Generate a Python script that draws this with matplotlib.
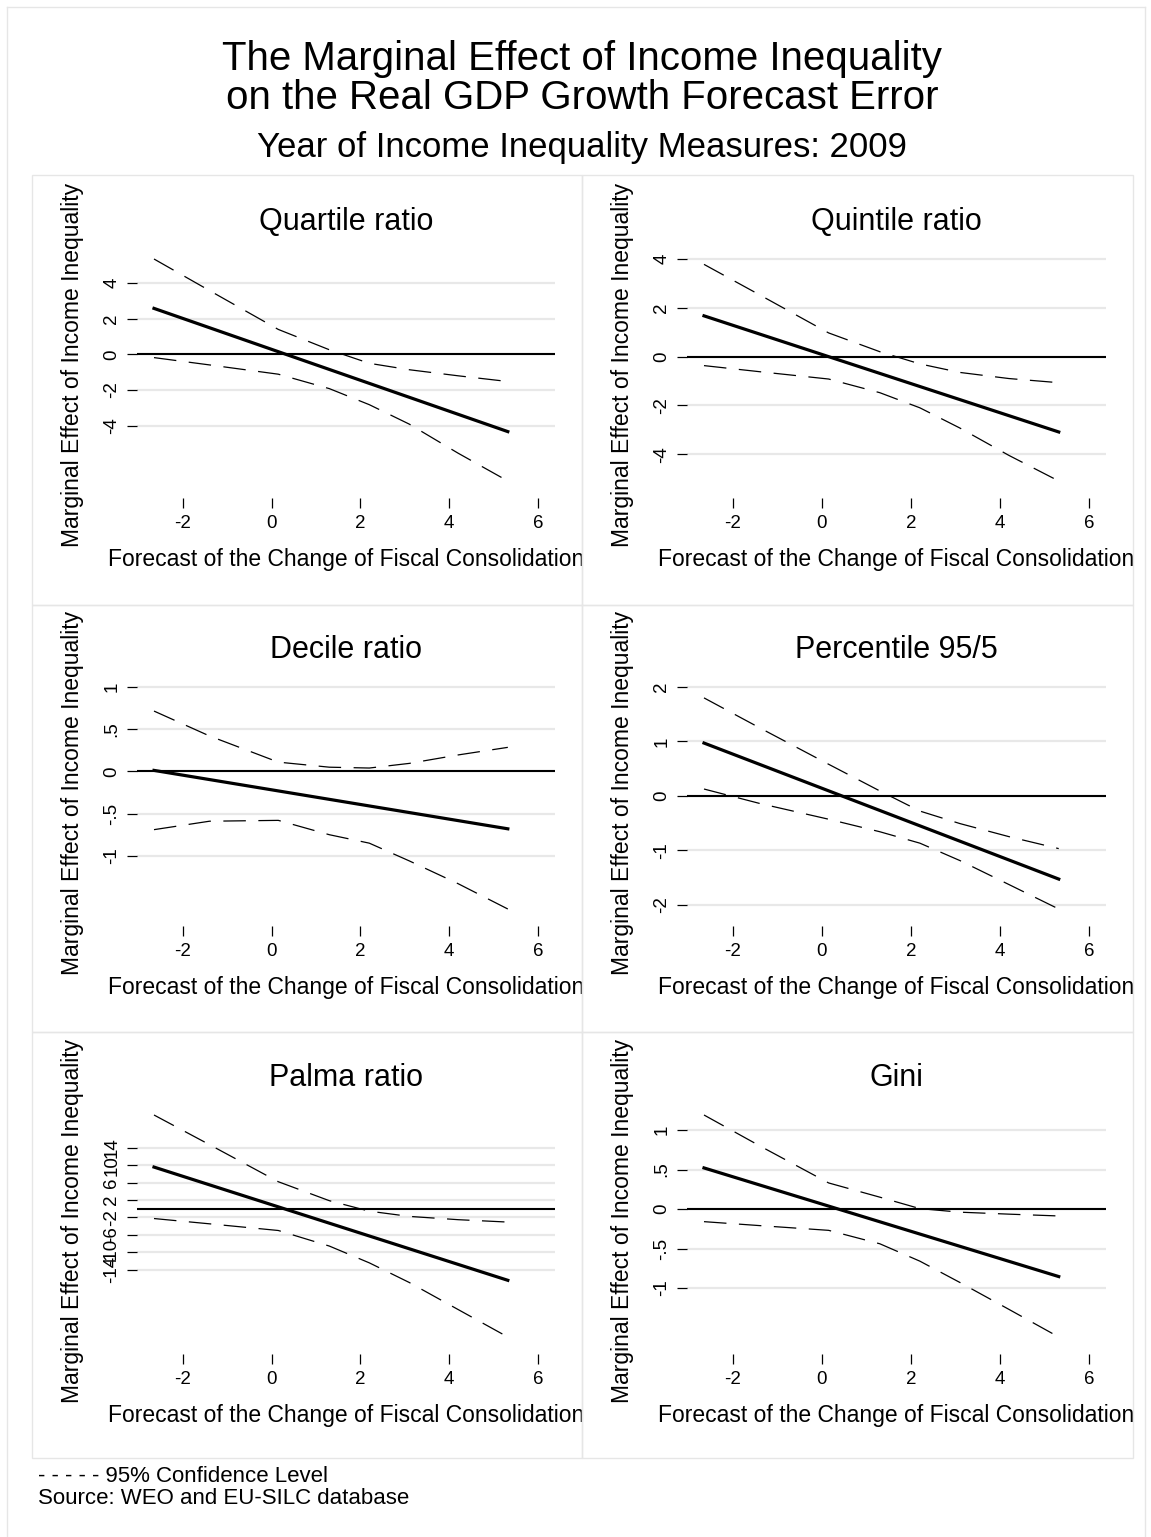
################# Imports #########################
import matplotlib
matplotlib.use("Agg")
from matplotlib import pyplot as plt
from matplotlib.patches import Rectangle
from matplotlib.lines import Line2D
from matplotlib.transforms import Bbox, TransformedBbox

plt.rcParams['font.family'] = ['Liberation Sans', 'DejaVu Sans']
plt.rcParams['axes.unicode_minus'] = False

################ Variables ########################
W, H = 1151, 1537

panel_titles = ["Quartile ratio", "Quintile ratio", "Decile ratio",
                "Percentile 95/5", "Palma ratio", "Gini"]

x_ticks = [-2, 0, 2, 4, 6]
x_labels = ["-2", "0", "2", "4", "6"]

# start / end of the marginal effect line
main_x = [-2.65, 5.32]
ci_x = [-2.65, -1.4, 0.15, 1.3, 2.2, 3.1, 4.2, 5.32]

quartile_main = [2.58, -4.33]
quartile_upper = [5.35, 3.58, 1.40, 0.26, -0.50, -0.86, -1.20, -1.52]
quartile_lower = [-0.18, -0.59, -1.11, -1.92, -2.82, -3.91, -5.54, -7.1]
quartile_ticks = [-4, -2, 0, 2, 4]
quartile_tlabels = ["-4", "-2", "0", "2", "4"]

quintile_main = [1.67, -3.09]
quintile_upper = [3.78, 2.53, 0.97, 0.20, -0.30, -0.65, -0.90, -1.07]
quintile_lower = [-0.37, -0.62, -0.92, -1.48, -2.10, -2.93, -4.05, -5.1]
quintile_ticks = [-4, -2, 0, 2, 4]
quintile_tlabels = ["-4", "-2", "0", "2", "4"]

decile_main = [0.012, -0.68]
decile_upper = [0.715, 0.42, 0.11, 0.05, 0.04, 0.095, 0.195, 0.285]
decile_lower = [-0.69, -0.59, -0.58, -0.75, -0.85, -1.06, -1.33, -1.63]
decile_ticks = [-1, -0.5, 0, 0.5, 1]
decile_tlabels = ["-1", "-.5", "0", ".5", "1"]

p955_main = [0.97, -1.53]
p955_upper = [1.80, 1.25, 0.58, 0.09, -0.28, -0.51, -0.75, -0.97]
p955_lower = [0.125, -0.14, -0.43, -0.66, -0.87, -1.19, -1.63, -2.08]
p955_ticks = [-2, -1, 0, 1, 2]
p955_tlabels = ["-2", "-1", "0", "1", "2"]

palma_main = [9.56, -16.4]
palma_upper = [21.5, 14.7, 6.2, 1.85, -0.55, -1.75, -2.5, -3.05]
palma_lower = [-2.24, -3.45, -4.98, -8.55, -12.4, -16.9, -23.1, -29.4]
palma_ticks = [-14, -10, -6, -2, 2, 6, 10, 14]
palma_tlabels = ["-14", "-10", "-6", "-2", "2", "6", "10", "14"]

gini_main = [0.52, -0.855]
gini_upper = [1.19, 0.80, 0.33, 0.15, 0.005, -0.04, -0.065, -0.088]
gini_lower = [-0.16, -0.21, -0.27, -0.44, -0.66, -0.93, -1.27, -1.62]
gini_ticks = [-1, -0.5, 0, 0.5, 1]
gini_tlabels = ["-1", "-.5", "0", ".5", "1"]

mains = [quartile_main, quintile_main, decile_main, p955_main, palma_main, gini_main]
uppers = [quartile_upper, quintile_upper, decile_upper, p955_upper, palma_upper, gini_upper]
lowers = [quartile_lower, quintile_lower, decile_lower, p955_lower, palma_lower, gini_lower]
yticks = [quartile_ticks, quintile_ticks, decile_ticks, p955_ticks, palma_ticks, gini_ticks]
ytlabels = [quartile_tlabels, quintile_tlabels, decile_tlabels, p955_tlabels, palma_tlabels, gini_tlabels]

################ Layout (pixels) ##################
col_l = [137, 687]
col_r = [555, 1106]
row_top = [242, 670, 1098]
row_h = 256
margin = 17
panel_x = [32, 582, 1133]
panel_y = [175, 605, 1032, 1458]
border_col = '#e6e6e6'

def fx(px):
    return px / W

def fy(py):
    return 1 - py / H

################## Script #########################
fig = plt.figure(figsize=(W / 100, H / 100), dpi=100)

# outer frame
fig.add_artist(Line2D([fx(7), fx(1145)], [fy(7), fy(7)], transform=fig.transFigure, color=border_col, lw=1))
fig.add_artist(Line2D([fx(7), fx(7)], [fy(7), 0], transform=fig.transFigure, color=border_col, lw=1))
fig.add_artist(Line2D([fx(1145), fx(1145)], [fy(7), 0], transform=fig.transFigure, color=border_col, lw=1))

fig.text(fx(582), fy(70), "The Marginal Effect of Income Inequality", fontsize=29, ha='center', va='baseline')
fig.text(fx(582), fy(109), "on the Real GDP Growth Forecast Error", fontsize=29, ha='center', va='baseline')
fig.text(fx(582), fy(157), "Year of Income Inequality Measures: 2009", fontsize=25, ha='center', va='baseline')

for i in range(6):
    r, c = i // 2, i % 2
    l, rr = col_l[c], col_r[c]
    top = row_top[r]
    ax = fig.add_axes([fx(l), fy(top + row_h), (rr - l) / W, row_h / H])

    # panel border
    px0, px1 = panel_x[c], panel_x[c + 1]
    py0, py1 = panel_y[r], panel_y[r + 1]
    fig.add_artist(Rectangle((fx(px0), fy(py1)), (px1 - px0) / W, (py1 - py0) / H,
                             transform=fig.transFigure, fill=False, ec=border_col, lw=1))

    ax.axhline(0, color='black', lw=1.5, zorder=2)
    ax.plot(main_x, mains[i], color='black', lw=2.3, zorder=3)
    ax.plot(ci_x, uppers[i], color='black', lw=0.9, linestyle=(0, (18, 10)), zorder=3)
    ax.plot(ci_x, lowers[i], color='black', lw=0.9, linestyle=(0, (18, 10)), zorder=3)

    # plot region = data/tick range plus a fixed margin
    xmin = min(main_x[0], ci_x[0], x_ticks[0])
    xmax = max(main_x[-1], ci_x[-1], x_ticks[-1])
    xpad = (xmax - xmin) * margin / (rr - l - 2 * margin)
    ax.set_xlim(xmin - xpad, xmax + xpad)
    vals = mains[i] + uppers[i] + lowers[i] + yticks[i]
    ymin, ymax = min(vals), max(vals)
    ypad = (ymax - ymin) * margin / (row_h - 2 * margin)
    ax.set_ylim(ymin - ypad, ymax + ypad)

    ax.set_xticks(x_ticks)
    ax.set_xticklabels(x_labels)
    ax.set_yticks(yticks[i])
    ax.set_yticklabels(ytlabels[i])
    ax.grid(axis='y', color='#e8e8e8', lw=1.6)
    ax.grid(axis='x', visible=False)
    ax.set_axisbelow(True)
    for s in ax.spines.values():
        s.set_visible(False)
    ax.tick_params(axis='both', direction='out', length=7, width=0.9, color='black', labelsize=13.5)
    ax.tick_params(axis='x', pad=5)
    ax.tick_params(axis='y', pad=5, labelrotation=90)
    plt.setp(ax.get_yticklabels(), va='center')

    ax.set_xlabel("Forecast of the Change of Fiscal Consolidation", fontsize=16.5)
    ax.xaxis.set_label_coords(0.5, -50 / row_h)
    ax.set_ylabel("Marginal Effect of Income Inequality", fontsize=16.5)
    ax.yaxis.set_label_coords(-53 / (rr - l), 0.52)

    # long x label is cut at the panel edge
    clip = TransformedBbox(Bbox.from_extents(fx(px0), fy(py1), fx(px1), fy(py0)), fig.transFigure)
    ax.xaxis.label.set_clip_box(clip)
    ax.xaxis.label.set_clip_on(True)

    fig.text(fx((l + rr) / 2), fy(230 + 428 * r), panel_titles[i], fontsize=22, ha='center', va='baseline')

fig.text(fx(38), fy(1482), "- - - - - 95% Confidence Level", fontsize=16, va='baseline')
fig.text(fx(38), fy(1504), "Source: WEO and EU-SILC database", fontsize=16, va='baseline')

plt.savefig('out.png', dpi=100)
